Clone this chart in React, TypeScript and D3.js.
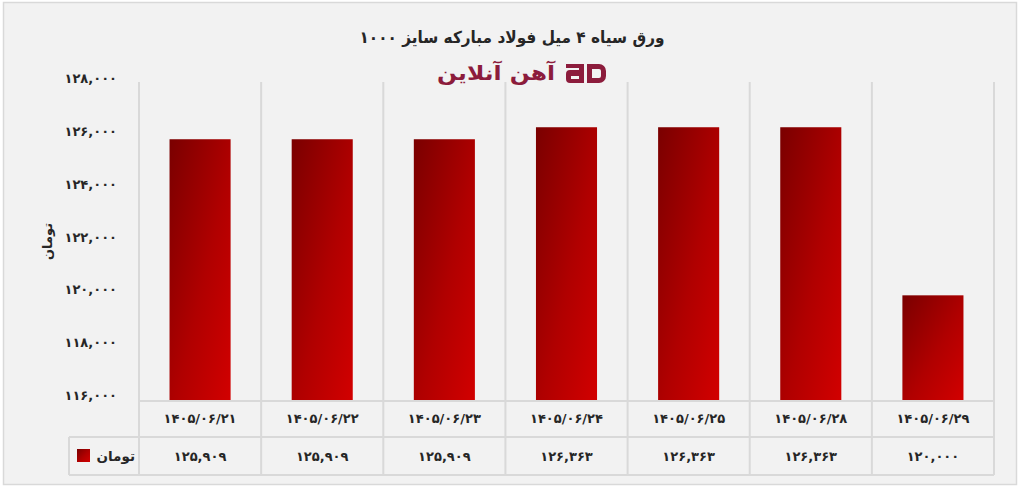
import React from "react";
import * as d3 from "d3";

const title = "ورق سیاه ۴ میل فولاد مبارکه سایز ۱۰۰۰";
const logoText = "آهن آنلاین";
const seriesName = "تومان";
const axisTitle = "تومان";
const categories = [
  "۱۴۰۵/۰۶/۲۱",
  "۱۴۰۵/۰۶/۲۲",
  "۱۴۰۵/۰۶/۲۳",
  "۱۴۰۵/۰۶/۲۴",
  "۱۴۰۵/۰۶/۲۵",
  "۱۴۰۵/۰۶/۲۸",
  "۱۴۰۵/۰۶/۲۹",
];
const values = [125909, 125909, 125909, 126363, 126363, 126363, 120000];
const yTicks = [116000, 118000, 120000, 122000, 124000, 126000, 128000];
const yDomain = [116000, 128000];

const faDigits = "۰۱۲۳۴۵۶۷۸۹";
const toFa = (n: number) =>
  d3.format(",")(n).replace(/[0-9]/g, (d) => faDigits[+d]);

const FONT = "'DejaVu Sans', sans-serif";
const TXT = "#262626";
const GRID = "#d9d9d9";

export default function App() {
  const left = 139;
  const right = 994;
  const top = 82;
  const bottom = 401;
  const row1 = 437;
  const row2 = 475;
  const legendLeft = 69;

  const x = d3.scaleBand<string>().domain(categories).range([left, right]).paddingInner(0).paddingOuter(0);
  const y = d3.scaleLinear().domain(yDomain).range([bottom, 84]);
  const bw = x.bandwidth() * 0.5;

  return (
    <svg width={1022} height={490} style={{ position: "absolute", left: 0, top: 0 }} fontFamily={FONT}>
      <defs>
        <linearGradient id="barGrad" x1="0" y1="0" x2="1" y2="1">
          <stop offset="0%" stopColor="#7a0000" />
          <stop offset="55%" stopColor="#b00000" />
          <stop offset="100%" stopColor="#d20000" />
        </linearGradient>
      </defs>
      <rect x={0} y={0} width={1022} height={490} fill="#ffffff" />
      <rect x={3.5} y={2.5} width={1013} height={482} fill="#f2f2f2" stroke={GRID} strokeWidth={1.5} />

      <text x={512} y={43} textAnchor="middle" fontSize={16.5} fontWeight="bold" fill={TXT} textLength={305} lengthAdjust="spacingAndGlyphs">
        {title}
      </text>

      {/* logo */}
      <g fill="#8c1c3c">
        <text x={437} y={80} textAnchor="start" fontSize={20} fontWeight="bold" textLength={118} lengthAdjust="spacingAndGlyphs">
          {logoText}
        </text>
        <path d="M566,64 h18 v19 h-14 a4,4 0 0 1 -4,-4 v-5 a4,4 0 0 1 4,-4 h9 v-2 h-13 z M571,76 v3 h8 v-3 z" fillRule="evenodd" />
        <path d="M587,64 h12 a7,7 0 0 1 7,7 v5 a7,7 0 0 1 -7,7 h-12 z M592,69 v9 h7 a2,2 0 0 0 2,-2 v-5 a2,2 0 0 0 -2,-2 z" fillRule="evenodd" />
      </g>

      {/* y tick labels */}
      {yTicks.map((t) => (
        <text key={t} x={117} y={y(t) - 1} textAnchor="end" fontSize={13} fontWeight="bold" fill={TXT}>
          {toFa(t)}
        </text>
      ))}
      <text
        transform={`translate(52,${(top + bottom) / 2}) rotate(-90)`}
        textAnchor="middle"
        fontSize={13}
        fontWeight="bold"
        fill={TXT}
      >
        {axisTitle}
      </text>

      {/* separators */}
      {categories.map((c) => (
        <line key={c} x1={x(c)} x2={x(c)} y1={top} y2={row2} stroke={GRID} strokeWidth={2} />
      ))}
      <line x1={right} x2={right} y1={top} y2={row2} stroke={GRID} strokeWidth={2} />
      <line x1={left} x2={right} y1={bottom} y2={bottom} stroke={GRID} strokeWidth={2} />
      <line x1={legendLeft} x2={right} y1={row1} y2={row1} stroke={GRID} strokeWidth={2} />
      <line x1={legendLeft} x2={right} y1={row2} y2={row2} stroke={GRID} strokeWidth={2} />
      <line x1={legendLeft} x2={legendLeft} y1={row1} y2={row2} stroke={GRID} strokeWidth={2} />

      {/* bars */}
      {categories.map((c, i) => (
        <rect
          key={c}
          x={(x(c) as number) + (x.bandwidth() - bw) / 2}
          y={y(values[i])}
          width={bw}
          height={bottom - 1 - y(values[i])}
          fill="url(#barGrad)"
        />
      ))}

      {/* category labels */}
      {categories.map((c) => (
        <text key={c} x={(x(c) as number) + x.bandwidth() / 2} y={423} textAnchor="middle" fontSize={13} fontWeight="bold" fill={TXT}>
          {c}
        </text>
      ))}

      {/* values row */}
      {categories.map((c, i) => (
        <text key={c} x={(x(c) as number) + x.bandwidth() / 2} y={461} textAnchor="middle" fontSize={13} fontWeight="bold" fill={TXT}>
          {toFa(values[i])}
        </text>
      ))}

      {/* legend */}
      <rect x={77} y={449} width={13} height={13} fill="url(#barGrad)" />
      <text x={135} y={461} textAnchor="end" fontSize={13.5} fontWeight="bold" fill={TXT}>
        {seriesName}
      </text>
    </svg>
  );
}
